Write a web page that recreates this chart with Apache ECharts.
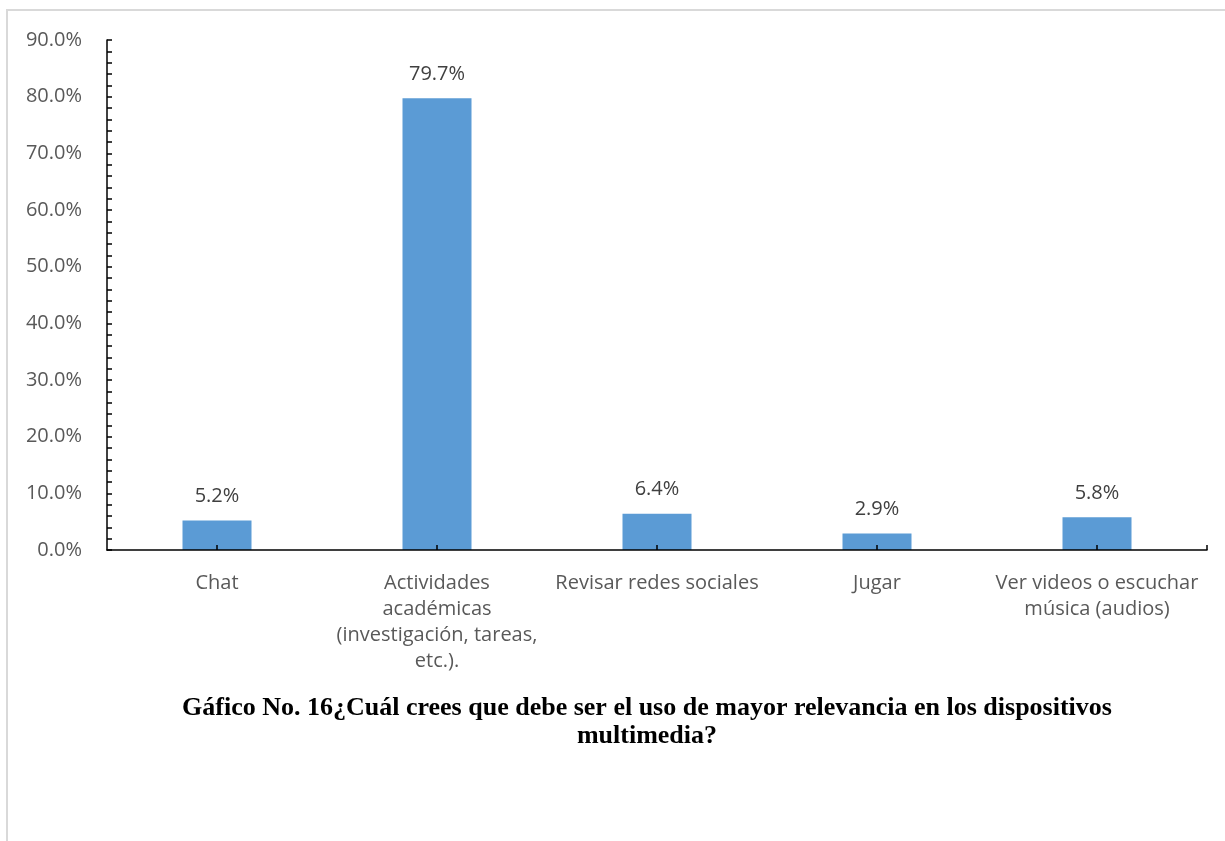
<!DOCTYPE html>
<html>
<head>
<meta charset="utf-8">
<script src="https://cdn.jsdelivr.net/npm/echarts@6/dist/echarts.min.js"></script>
<style>
  html, body { margin: 0; padding: 0; background: #fff; }
  #chart { width: 1225px; height: 841px; }
  #frame { position: absolute; left: 6px; top: 9px; width: 1219px; height: 832px;
           border-top: 2px solid #d9d9d9; border-left: 2px solid #d9d9d9; box-sizing: border-box; pointer-events: none; }
</style>
</head>
<body>
<div id="chart"></div>
<div id="frame"></div>
<script>
// Categories and percentage shares
const categories = [
  'Chat',
  'Actividades\nacadémicas\n(investigación, tareas,\netc.).',
  'Revisar redes sociales',
  'Jugar',
  'Ver videos o escuchar\nmúsica (audios)'
];
const shares = [5.2, 79.7, 6.4, 2.9, 5.8];
const yTicks = { min: 0, max: 90, step: 10 };
const titleText = 'Gáfico No. 16¿Cuál crees que debe ser el uso de mayor relevancia en los dispositivos\nmultimedia?';

const FONT = '"Open Sans", sans-serif';
const chart = echarts.init(document.getElementById('chart'), null, { renderer: 'canvas' });

chart.setOption({
  backgroundColor: '#ffffff',
  animation: false,
  title: {
    text: titleText,
    left: 642,
    top: 689,
    textAlign: 'center',
    textStyle: {
      fontFamily: '"Liberation Serif", "Times New Roman", serif',
      fontWeight: 'bold',
      fontSize: 26,
      lineHeight: 28,
      color: '#000000',
      align: 'center'
    }
  },
  grid: { left: 107, right: 18, top: 40, bottom: 291, containLabel: false },
  xAxis: [
    {
      type: 'category',
      data: categories,
      axisLine: { show: false },
      axisTick: { show: false },
      axisLabel: {
        margin: 20,
        fontFamily: FONT,
        fontSize: 20,
        lineHeight: 26,
        color: '#595959',
        interval: 0
      },
      splitLine: { show: false }
    },
    {
      // axis line with ticks at category centres and at the far end
      type: 'value',
      min: 0,
      max: 10,
      position: 'bottom',
      z: 5,
      axisLine: { show: true, lineStyle: { color: '#000000', width: 1.5 } },
      axisTick: { show: true, inside: true, length: 5, customValues: [1, 3, 5, 7, 9, 10],
                  lineStyle: { color: '#000000', width: 1.5 } },
      axisLabel: { show: false },
      splitLine: { show: false }
    }
  ],
  yAxis: {
    type: 'value',
    min: yTicks.min,
    max: yTicks.max,
    interval: yTicks.step,
    z: 5,
    axisLine: { show: true, lineStyle: { color: '#000000', width: 1.5 } },
    axisTick: { show: true, inside: true, length: 5, lineStyle: { color: '#000000', width: 1.5 } },
    minorTick: { show: true, splitNumber: 5, length: 5, lineStyle: { color: '#000000', width: 1.5 } },
    splitLine: { show: false },
    axisLabel: {
      margin: 25,
      fontFamily: FONT,
      fontSize: 20,
      color: '#595959',
      formatter: v => v.toFixed(1) + '%'
    }
  },
  series: [{
    type: 'bar',
    xAxisIndex: 0,
    data: shares,
    barWidth: 69,
    itemStyle: { color: '#5b9bd5' },
    z: 1,
    label: {
      show: true,
      position: 'top',
      distance: 14,
      fontFamily: FONT,
      fontSize: 20,
      color: '#404040',
      formatter: p => p.value.toFixed(1) + '%'
    }
  }]
});
</script>
</body>
</html>
